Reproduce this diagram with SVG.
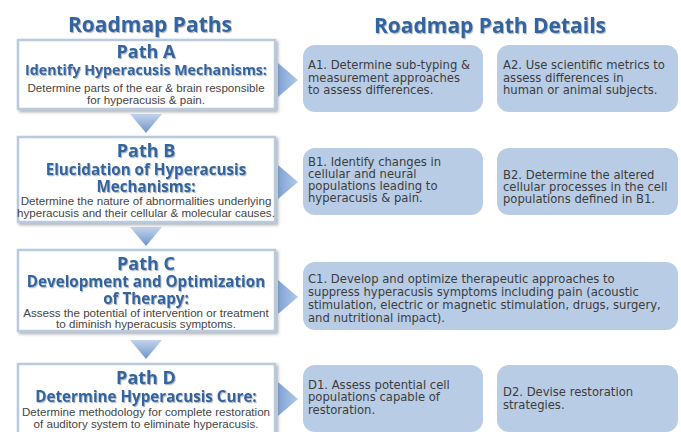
<svg xmlns="http://www.w3.org/2000/svg" width="681" height="432" viewBox="0 0 681 432">
  <defs>
    <filter id="boxShadow" x="-10%" y="-10%" width="125%" height="130%">
      <feDropShadow dx="2" dy="2" stdDeviation="1.5" flood-color="#6b7480" flood-opacity="0.55"/>
    </filter>
    <filter id="textShadow" x="-5%" y="-20%" width="110%" height="150%">
      <feDropShadow dx="1" dy="1.2" stdDeviation="0.7" flood-color="#7a8594" flood-opacity="0.55"/>
    </filter>
    <linearGradient id="gradDown" x1="0" y1="0" x2="0" y2="1">
      <stop offset="0" stop-color="#c3d4ec"/>
      <stop offset="1" stop-color="#6e94ca"/>
    </linearGradient>
    <linearGradient id="gradRight" x1="0" y1="0" x2="1" y2="0">
      <stop offset="0" stop-color="#7fa3d4"/>
      <stop offset="1" stop-color="#b3c9e7"/>
    </linearGradient>
  </defs>
  <style>
    .heading { font-family: "Open Sans", "DejaVu Sans", sans-serif; font-weight: bold; font-size: 21px; fill: #33659f; text-anchor: middle; }
    .pathBox { fill: #ffffff; stroke: #b9cadf; stroke-width: 2.5; }
    .pathTitle { font-family: "Open Sans", "DejaVu Sans", sans-serif; font-weight: bold; font-size: 18px; fill: #33659f; text-anchor: middle; }
    .pathSub { font-family: "Open Sans", "DejaVu Sans", sans-serif; font-weight: bold; font-size: 15.2px; fill: #33659f; text-anchor: middle; }
    .pathDesc { font-family: "Liberation Sans", Arial, sans-serif; font-size: 11.6px; fill: #454545; text-anchor: middle; }
    .detailBox { fill: #b9cce5; }
    .detail { font-family: "DejaVu Sans", Verdana, sans-serif; font-size: 11.6px; fill: #3c3c3c; }
    .arrowDown { fill: url(#gradDown); }
    .arrowRight { fill: url(#gradRight); }
  </style>

  <rect width="681" height="432" fill="#ffffff"/>

  <!-- column headings -->
  <text class="heading" x="150" y="32" filter="url(#textShadow)">Roadmap Paths</text>
  <text class="heading" x="490" y="33" filter="url(#textShadow)">Roadmap Path Details</text>

  <!-- arrows linking paths and their details -->
  <g id="connectors">
    <polygon class="arrowDown" points="130,114 162,114 146,133"/>
    <polygon class="arrowDown" points="130,227 162,227 146,246"/>
    <polygon class="arrowDown" points="130,340 162,340 146,359"/>
    <polygon class="arrowRight" points="278,63 298,80 278,97"/>
    <polygon class="arrowRight" points="278,165 298,182 278,199"/>
    <polygon class="arrowRight" points="278,280 298,297 278,314"/>
    <polygon class="arrowRight" points="278,382 298,399 278,416"/>
  </g>

  <!-- Path A -->
  <g id="pathA">
    <rect class="pathBox" x="18" y="40" width="257" height="69" filter="url(#boxShadow)"/>
    <text class="pathTitle" x="146" y="58" filter="url(#textShadow)">Path A</text>
    <text class="pathSub" x="146" y="75" style="font-size:14.2px" filter="url(#textShadow)">Identify Hyperacusis  Mechanisms:</text>
    <text class="pathDesc" x="146" y="92">Determine parts of the ear &amp; brain responsible</text>
    <text class="pathDesc" x="146" y="104">for hyperacusis &amp; pain.</text>
  </g>

  <!-- Path B -->
  <g id="pathB">
    <rect class="pathBox" x="18" y="137" width="257" height="85" filter="url(#boxShadow)"/>
    <text class="pathTitle" x="146" y="157" filter="url(#textShadow)">Path B</text>
    <text class="pathSub" x="146" y="175" filter="url(#textShadow)">Elucidation of Hyperacusis</text>
    <text class="pathSub" x="146" y="192" filter="url(#textShadow)">Mechanisms:</text>
    <text class="pathDesc" x="146" y="205">Determine the nature of abnormalities underlying</text>
    <text class="pathDesc" x="146" y="217">hyperacusis and their cellular &amp; molecular causes.</text>
  </g>

  <!-- Path C -->
  <g id="pathC">
    <rect class="pathBox" x="18" y="250" width="257" height="81" filter="url(#boxShadow)"/>
    <text class="pathTitle" x="146" y="270" filter="url(#textShadow)">Path C</text>
    <text class="pathSub" x="146" y="287" filter="url(#textShadow)">Development and Optimization</text>
    <text class="pathSub" x="146" y="304" filter="url(#textShadow)">of Therapy:</text>
    <text class="pathDesc" x="146" y="317">Assess the potential of intervention or treatment</text>
    <text class="pathDesc" x="146" y="328">to diminish hyperacusis symptoms.</text>
  </g>

  <!-- Path D -->
  <g id="pathD">
    <rect class="pathBox" x="18" y="364" width="257" height="80" filter="url(#boxShadow)"/>
    <text class="pathTitle" x="146" y="384" filter="url(#textShadow)">Path D</text>
    <text class="pathSub" x="146" y="402" filter="url(#textShadow)">Determine Hyperacusis Cure:</text>
    <text class="pathDesc" x="146" y="416">Determine methodology for complete restoration</text>
    <text class="pathDesc" x="146" y="428">of auditory system to eliminate hyperacusis.</text>
  </g>

  <!-- detail boxes -->
  <g id="detailA1">
    <rect class="detailBox" x="303" y="45" width="180" height="67" rx="12"/>
    <text class="detail" x="308" y="69">A1. Determine sub-typing &amp;</text>
    <text class="detail" x="308" y="81.5">measurement approaches</text>
    <text class="detail" x="308" y="94">to assess differences.</text>
  </g>
  <g id="detailA2">
    <rect class="detailBox" x="497" y="45" width="181" height="67" rx="12"/>
    <text class="detail" x="503" y="69">A2. Use scientific metrics to</text>
    <text class="detail" x="503" y="81.5">assess differences in</text>
    <text class="detail" x="503" y="94">human or animal subjects.</text>
  </g>
  <g id="detailB1">
    <rect class="detailBox" x="303" y="148" width="180" height="67" rx="12"/>
    <text class="detail" x="308" y="166">B1. Identify changes in</text>
    <text class="detail" x="308" y="178">cellular and neural</text>
    <text class="detail" x="308" y="190">populations leading to</text>
    <text class="detail" x="308" y="202">hyperacusis &amp; pain.</text>
  </g>
  <g id="detailB2">
    <rect class="detailBox" x="497" y="148" width="181" height="67" rx="12"/>
    <text class="detail" x="503" y="179">B2. Determine the altered</text>
    <text class="detail" x="503" y="191">cellular processes in the cell</text>
    <text class="detail" x="503" y="203">populations defined in B1.</text>
  </g>
  <g id="detailC1">
    <rect class="detailBox" x="303" y="262" width="375" height="68" rx="12"/>
    <text class="detail" x="308" y="283">C1. Develop and optimize therapeutic approaches to</text>
    <text class="detail" x="308" y="296">suppress hyperacusis symptoms including pain (acoustic</text>
    <text class="detail" x="308" y="309">stimulation, electric or magnetic stimulation, drugs, surgery,</text>
    <text class="detail" x="308" y="322">and nutritional impact).</text>
  </g>
  <g id="detailD1">
    <rect class="detailBox" x="303" y="365" width="180" height="67" rx="12"/>
    <text class="detail" x="308" y="389">D1. Assess potential cell</text>
    <text class="detail" x="308" y="401">populations capable of</text>
    <text class="detail" x="308" y="414">restoration.</text>
  </g>
  <g id="detailD2">
    <rect class="detailBox" x="497" y="365" width="181" height="67" rx="12"/>
    <text class="detail" x="503" y="396">D2. Devise restoration</text>
    <text class="detail" x="503" y="409">strategies.</text>
  </g>
</svg>
